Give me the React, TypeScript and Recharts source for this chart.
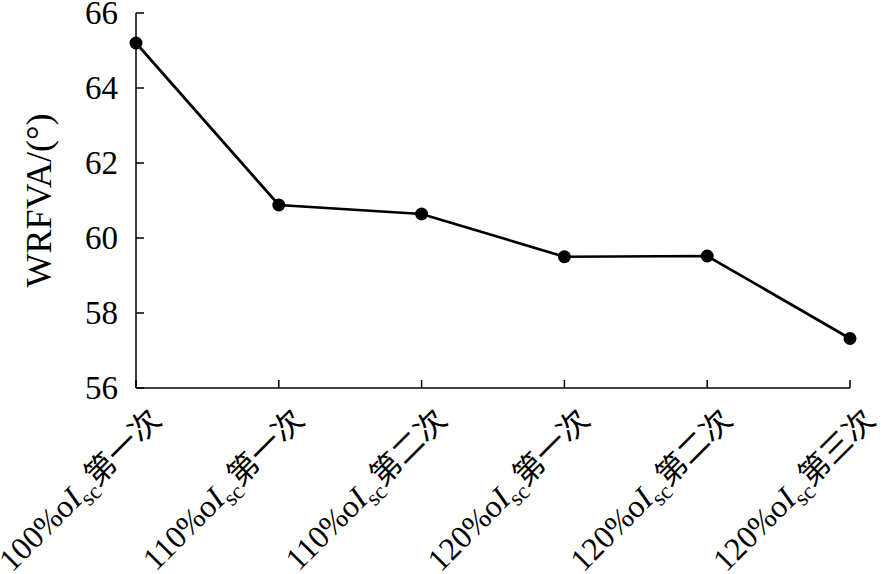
import React from 'react';
import { LineChart, Line, XAxis, YAxis } from 'recharts';

const currentPct = ['100%o', '110%o', '110%o', '120%o', '120%o', '120%o'];
const trialLabels = ['第一次', '第一次', '第二次', '第一次', '第二次', '第三次'];
const wrfva = [65.2, 60.88, 60.64, 59.5, 59.52, 57.32];
const yTicks = [56, 58, 60, 62, 64, 66];

const data = wrfva.map((v, i) => ({ key: String(i), pct: currentPct[i], trial: trialLabels[i], value: v }));

const SERIF = '"Liberation Serif", "Times New Roman", serif';
const CJK = '"Noto Sans CJK SC", sans-serif';

const XTick = (props: any) => {
  const { x, y, payload } = props;
  const i = Number(payload.value);
  return (
    <g transform={`translate(${x},${y})`}>
      <text
        transform="translate(27,42) rotate(-45)"
        textAnchor="end"
        fontFamily={SERIF}
        fontSize={32}
        fill="#000"
      >
        <tspan>{currentPct[i]}</tspan>
        <tspan fontStyle="italic">I</tspan>
        <tspan fontSize={23} dy={8}>sc</tspan>
        <tspan dy={-8} fontFamily={CJK} fontSize={31}>{trialLabels[i]}</tspan>
      </text>
    </g>
  );
};

const YTick = (props: any) => {
  const { x, y, payload } = props;
  return (
    <text x={x} y={y} dy={11} textAnchor="end" fontFamily={SERIF} fontSize={33} fill="#000">
      {payload.value}
    </text>
  );
};

export default function App() {
  return (
    <div style={{ position: 'absolute', left: 0, top: 0, width: 881, height: 574, background: '#fff' }}>
      <LineChart width={881} height={574} data={data} margin={{ top: 13, right: 31, left: 0, bottom: 0 }}>
        <XAxis
          dataKey="key"
          height={186}
          stroke="#000"
          strokeWidth={1.5}
          tickSize={-8}
          tickMargin={0}
          tick={<XTick />}
          interval={0}
        />
        <XAxis xAxisId="top" dataKey="key" orientation="top" height={0} stroke="#000" strokeWidth={1.5} tick={false} tickLine={false} />
        <YAxis
          width={136}
          domain={[56, 66]}
          ticks={yTicks}
          interval={0}
          stroke="#000"
          strokeWidth={1.5}
          tickSize={-8}
          tickMargin={26}
          tick={<YTick />}
          label={{ value: 'WRFVA/(°)', angle: -90, position: 'insideLeft', offset: 38, style: { fontFamily: SERIF, fontSize: 36, fill: '#000', textAnchor: 'middle' } }}
        />
        <YAxis
          yAxisId="right"
          orientation="right"
          width={0}
          domain={[56, 66]}
          ticks={yTicks}
          interval={0}
          stroke="#000"
          strokeWidth={1.5}
          tickSize={-8}
          tick={false}
        />
        <Line
          dataKey="value"
          stroke="#000"
          strokeWidth={2.7}
          dot={{ r: 6.5, fill: '#000', stroke: '#000', strokeWidth: 0 }}
          isAnimationActive={false}
        />
      </LineChart>
    </div>
  );
}
